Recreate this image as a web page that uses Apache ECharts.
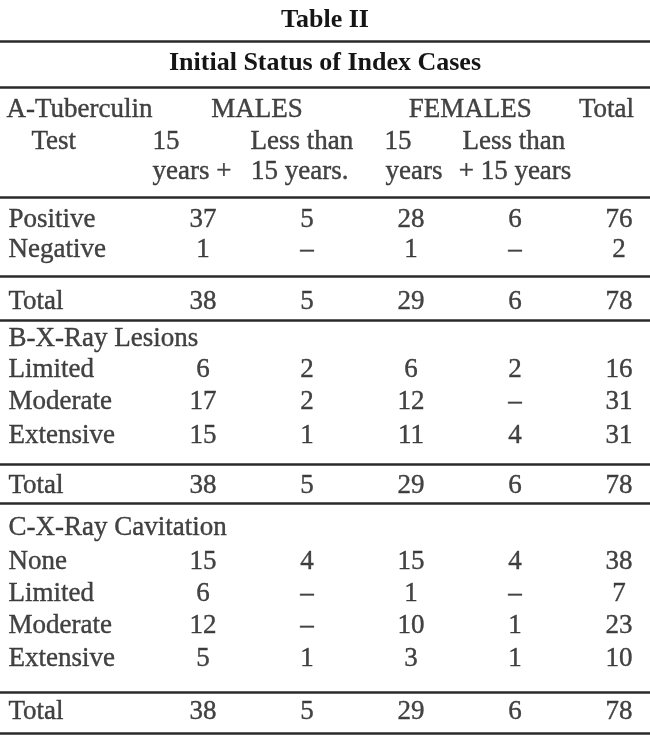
<!DOCTYPE html>
<html>
<head>
<meta charset="utf-8">
<script src="https://cdn.jsdelivr.net/npm/echarts@6/dist/echarts.min.js"></script>
<style>
html,body{margin:0;padding:0;background:#ffffff;}
#chart{width:650px;height:747px;}
</style>
</head>
<body>
<div id="chart"></div>
<script>
// ================= DATA =================
const tableTitle = 'Table II';
const tableSubtitle = 'Initial Status of Index Cases';

const headerTop = ['A-Tuberculin', 'MALES', 'FEMALES', 'Total'];
const headerMid = ['Test', '15', 'Less than', '15', 'Less than'];
const headerLow = ['years +', '15 years.', 'years', '+ 15 years'];

const totalLabel = 'Total';
const dash = '\u2013';

const rowsA = ['Positive', 'Negative'];
const valuesA = [
  [37, 5, 28, 6, 76],
  [1, null, 1, null, 2]
];
const totalA = [38, 5, 29, 6, 78];

const sectionB = 'B-X-Ray Lesions';
const rowsB = ['Limited', 'Moderate', 'Extensive'];
const valuesB = [
  [6, 2, 6, 2, 16],
  [17, 2, 12, null, 31],
  [15, 1, 11, 4, 31]
];
const totalB = [38, 5, 29, 6, 78];

const sectionC = 'C-X-Ray Cavitation';
const rowsC = ['None', 'Limited', 'Moderate', 'Extensive'];
const valuesC = [
  [15, 4, 15, 4, 38],
  [6, null, 1, null, 7],
  [12, null, 10, 1, 23],
  [5, 1, 3, 1, 10]
];
const totalC = [38, 5, 29, 6, 78];

// ================= LAYOUT (column units / row positions) =================
const W = 650, H = 747;
const FONT = 'Liberation Serif';
const TEXT = '#151515';
const colOrigin = 203, colUnit = 104;         // column 0 centre and column spacing
const labelX = -1.875, indentX = -1.654;
const colX = [0, 1, 2, 3, 4];
const headerTopX = [-1.895, 0.52, 2.57, 3.88];
const headerTopAlign = ['left', 'center', 'center', 'center'];
const headerMidX = [indentX, -0.49, 0.95, 1.74, 2.99];
const headerMidAlign = ['left', 'left', 'center', 'left', 'center'];
const headerLowX = [-0.49, 0.93, 1.75, 3.0];
const headerLowAlign = ['left', 'center', 'left', 'center'];

const headerY = [110, 142, 172];
const rowsAY = [220, 250], totalAY = 302;
const sectionBY = 339, rowsBY = [370, 402, 436], totalBY = 486;
const sectionCY = 528, rowsCY = [562, 594, 626, 659], totalCY = 712;
const ruleY = [41, 87, 197, 276, 320, 464, 503, 692, 733];

// ================= BUILD CELLS =================
const cells = [];
function cell(text, x, y, align) {
  cells.push({
    name: String(text),
    value: [x, y],
    label: align === 'left'
      ? { position: 'right', distance: 0 }
      : { position: 'inside' }
  });
}
headerTop.forEach((t, i) => cell(t, headerTopX[i], headerY[0], headerTopAlign[i]));
headerMid.forEach((t, i) => cell(t, headerMidX[i], headerY[1], headerMidAlign[i]));
headerLow.forEach((t, i) => cell(t, headerLowX[i], headerY[2], headerLowAlign[i]));

function valueRow(label, vals, y) {
  cell(label, labelX, y, 'left');
  vals.forEach((v, i) => cell(v === null ? dash : v, colX[i], y, 'center'));
}
rowsA.forEach((r, i) => valueRow(r, valuesA[i], rowsAY[i]));
valueRow(totalLabel, totalA, totalAY);
cell(sectionB, labelX, sectionBY, 'left');
rowsB.forEach((r, i) => valueRow(r, valuesB[i], rowsBY[i]));
valueRow(totalLabel, totalB, totalBY);
cell(sectionC, labelX, sectionCY, 'left');
rowsC.forEach((r, i) => valueRow(r, valuesC[i], rowsCY[i]));
valueRow(totalLabel, totalC, totalCY);

// ================= CHART =================
const chart = echarts.init(document.getElementById('chart'), null, { renderer: 'canvas' });
const titleStyle = { fontFamily: FONT, fontWeight: 'bold', fontSize: 26, lineHeight: 26, color: TEXT };
chart.setOption({
  backgroundColor: '#ffffff',
  animation: false,
  title: [
    { text: tableTitle, left: 'center', top: 7, padding: 0, textStyle: titleStyle },
    { text: tableSubtitle, left: 'center', top: 50, padding: 0, textStyle: titleStyle }
  ],
  grid: { left: 0, right: 0, top: 0, bottom: 0, containLabel: false },
  xAxis: {
    type: 'value', show: false,
    min: -colOrigin / colUnit, max: (W - colOrigin) / colUnit,
    splitLine: { show: false }
  },
  yAxis: {
    type: 'value', show: false, inverse: true, min: 0, max: H,
    splitLine: { show: false }
  },
  series: [{
    type: 'scatter',
    silent: true,
    symbolSize: 1,
    itemStyle: { color: 'rgba(0,0,0,0)' },
    label: {
      show: true,
      formatter: '{b}',
      fontFamily: FONT,
      fontSize: 27,
      color: TEXT,
      textBorderColor: TEXT,
      textBorderWidth: 0.4
    },
    data: cells,
    markLine: {
      silent: true,
      symbol: ['none', 'none'],
      label: { show: false },
      lineStyle: { color: '#2a2a2a', width: 2.5, type: 'solid' },
      data: ruleY.map(y => ({ yAxis: y }))
    }
  }]
});
</script>
</body>
</html>
